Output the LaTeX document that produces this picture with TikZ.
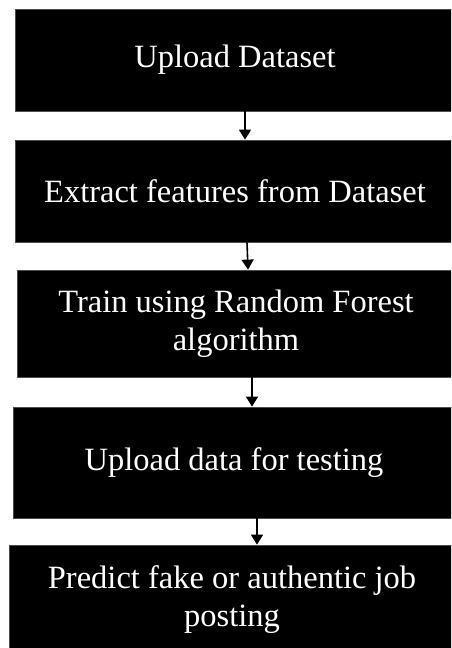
\documentclass[tikz,border=0pt]{standalone}
\usepackage{fontspec}
\setmainfont{Liberation Serif}
\usepackage{tikz}
\usetikzlibrary{arrows.meta, positioning}
\tikzset{>={Triangle[length=10pt, width=12pt]}}
\tikzset{
  stepbox/.style={draw=black!70, line width=0.8pt, fill=black, text=white,
    align=center, inner sep=0pt,
    font=\fontsize{32.5}{38}\selectfont},
  flow/.style={->, line width=1.6pt}
}

\begin{document}
\begin{tikzpicture}[x=1pt, y=-1pt]

\useasboundingbox (0,0) rectangle (451,648);
\clip (0,0) rectangle (451,648);

% Steps
\node[stepbox, minimum width=440pt, minimum height=102pt] (upload) at (235,60) {Upload Dataset};
\node[stepbox, minimum width=440pt, minimum height=102pt] (extract) at (235,191) {Extract features from Dataset};
\node[stepbox, minimum width=438pt, minimum height=107pt] (train) at (236,323.5) {Train using Random Forest\\algorithm};
\node[stepbox, minimum width=442pt, minimum height=111pt] (test) at (234,462.5) {Upload data for testing};
\node[stepbox, minimum width=446pt, minimum height=110pt] (predict) at (232,600) {Predict fake or authentic job\\posting};

% Arrows
\draw[flow] ([xshift=10pt]upload.south) -- ([xshift=10pt]extract.north);
\draw[flow] ([xshift=12pt]extract.south) -- ([xshift=12pt]train.north);
\draw[flow] ([xshift=16pt]train.south) -- ([xshift=18pt]test.north);
\draw[flow] ([xshift=23pt]test.south) -- ([xshift=25pt]predict.north);

\end{tikzpicture}
\end{document}
